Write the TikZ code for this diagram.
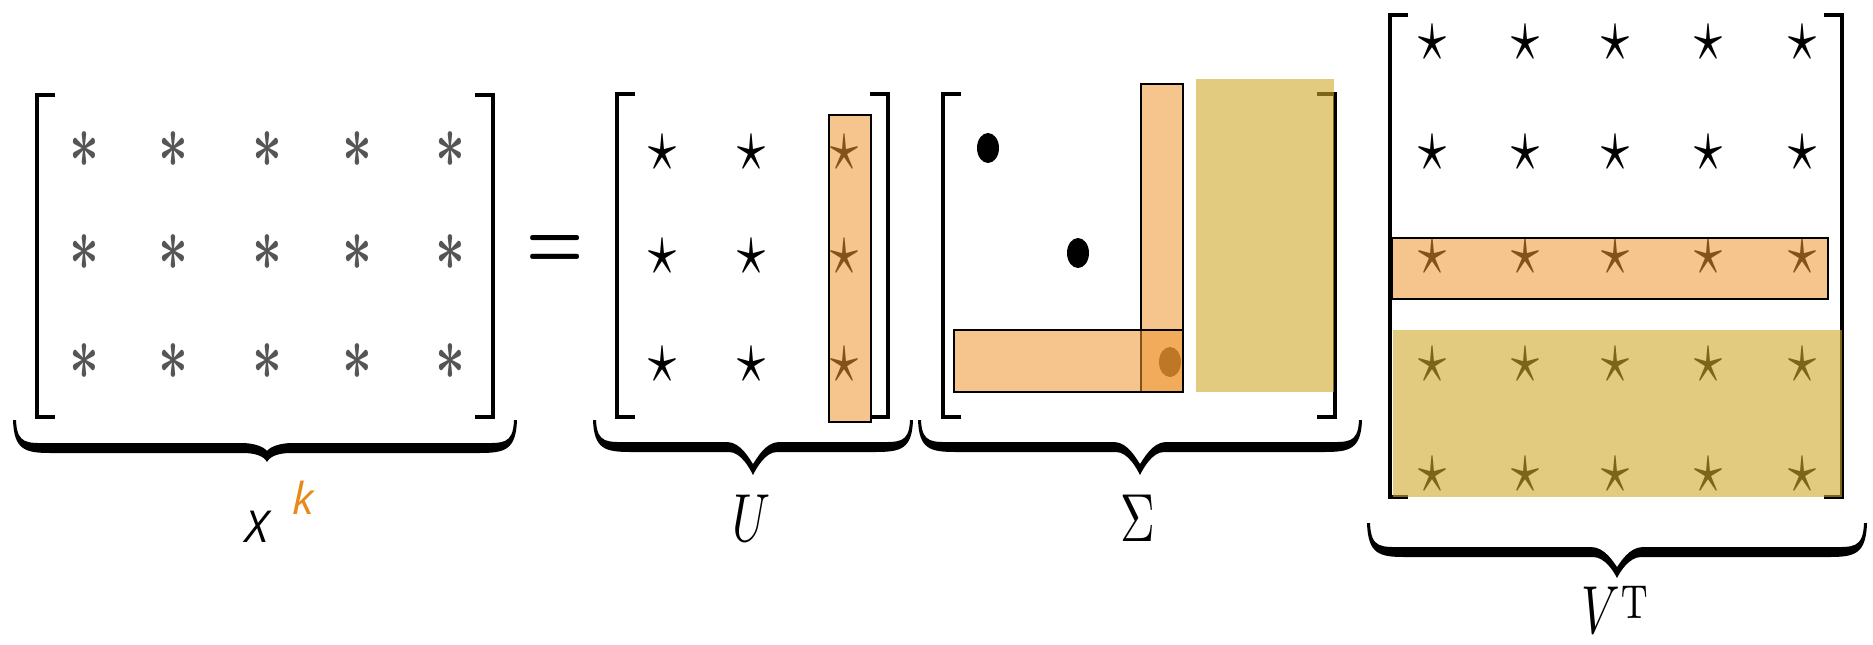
\documentclass[tikz,border=0pt]{standalone}
\usepackage[no-math]{fontspec}
\usepackage{bm}
\newfontfamily\labelsans{Open Sans}
\definecolor{hlorange}{RGB}{240,150,50}
\definecolor{hlgold}{RGB}{207,167,40}
\definecolor{korange}{RGB}{232,137,26}
\definecolor{astgray}{RGB}{85,85,85}
\tikzset{
  bracketline/.style={line width=2.2pt, line join=miter},
  starglyph/.style={inner sep=0pt, xscale=2.8, yscale=3.8},
  astglyph/.style={inner sep=0pt, xscale=2.6, yscale=3.8, text=astgray},
  mathlabel/.style={inner sep=0pt, xscale=2.4, yscale=3.4},
  eqglyph/.style={inner sep=0pt, xscale=3.2, yscale=4.2},
  hlbox/.style={draw=black, line width=0.8pt, fill=hlorange, fill opacity=0.55},
  goldbox/.style={fill=hlgold, fill opacity=0.6},
  bracefill/.style={fill=black},
  dotmark/.style={fill=black},
  sanslabel/.style={inner sep=0pt, font=\labelsans\itshape\fontsize{22}{26}\selectfont},
}
\newcommand\upSigmaGlyph{{\usefont{OT1}{cmr}{m}{n}\char"06}}
% #1 left x, #2 right x, #3 top y, #4 bottom y
\newcommand\mbracket[4]{%
  \draw[bracketline] ({#1+18},#3) -- (#1,#3) -- (#1,#4) -- ({#1+18},#4);
  \draw[bracketline] ({#2-18},#3) -- (#2,#3) -- (#2,#4) -- ({#2-18},#4);
}
% #1 left x, #2 right x, #3 centre x, #4 end top y, #5 bar y, #6 tip y
\newcommand\ubrace[6]{%
  \fill[bracefill] (#1,#4) .. controls ({#1+1},{#5+2}) and ({#1+12},{#5+5}) .. ({#1+38},{#5+5})
    -- ({#3-24},{#5+5}) .. controls ({#3-12},{#5+5}) and ({#3-3},{#6-6}) .. (#3,#6)
    .. controls ({#3+3},{#6-6}) and ({#3+12},{#5+5}) .. ({#3+24},{#5+5})
    -- ({#2-38},{#5+5}) .. controls ({#2-12},{#5+5}) and ({#2-1},{#5+2}) .. (#2,#4)
    -- ({#2-3},#4) .. controls ({#2-4},{#5-3}) and ({#2-14},{#5-5}) .. ({#2-38},{#5-5})
    -- ({#3+26},{#5-5}) .. controls ({#3+12},{#5-5}) and ({#3+3},{#6-15}) .. (#3,{#6-11})
    .. controls ({#3-3},{#6-15}) and ({#3-12},{#5-5}) .. ({#3-26},{#5-5})
    -- ({#1+38},{#5-5}) .. controls ({#1+14},{#5-5}) and ({#1+4},{#5-3}) .. ({#1+3},#4) -- cycle;
}
\begin{document}
\begin{tikzpicture}[x=0.5pt,y=-0.5pt]
\fill[white] (0,0) rectangle (1873,644);
\useasboundingbox (0,0) rectangle (1873,644);

% ---- X^k ----
\mbracket{37}{493}{95}{417}
\foreach \c [count=\i] in {84,173,267,357,450}
  \foreach \r [count=\j] in {150,253,362}
    \node[astglyph] (x\i\j) at (\c,\r) {$\bm{\ast}$};
\ubrace{13}{517}{267}{420}{448}{462}
\node[sanslabel] (xlab) at (257,527) {X};
\node[sanslabel, text=korange] (klab) at (303.5,498) {k};

% ---- = ----
\node[eqglyph] (eq) at (555,252) {$\bm{=}$};

% ---- U ----
\mbracket{617}{888}{94}{417}
\foreach \c [count=\i] in {662,751,844}
  \foreach \r [count=\j] in {153,257,365}
    \node[starglyph] (u\i\j) at (\c,\r) {$\star$};
\ubrace{593}{913}{753}{420}{447}{475}
\node[mathlabel] (ulab) at (751,518) {$U$};

% ---- Sigma ----
\mbracket{943}{1335}{94}{417}
\fill[dotmark] (988,148) ellipse [x radius=5.5pt, y radius=7.5pt];
\fill[dotmark] (1078,253) ellipse [x radius=5.5pt, y radius=7.5pt];
\fill[dotmark] (1170,362) ellipse [x radius=5.5pt, y radius=7.5pt];
\ubrace{918}{1362}{1140}{420}{447}{475}
\node[mathlabel] (slab) at (1138,518) {\upSigmaGlyph};

% ---- V^T ----
\mbracket{1390}{1842}{15}{497}
\foreach \c [count=\i] in {1432,1525,1615,1708,1802}
  \foreach \r [count=\j] in {43,153,257,365,475}
    \node[starglyph] (v\i\j) at (\c,\r) {$\star$};
\ubrace{1367}{1867}{1617}{523}{552}{578}
\node[mathlabel, anchor=base] (vlab) at (1615,633) {$V\raisebox{0.22em}{$\scriptstyle\mathrm{T}$}$};

% ---- highlights ----
\draw[hlbox] (829,115) rectangle (871,422);
\draw[hlbox] (1141,84) rectangle (1183,392);
\draw[hlbox] (954,330) rectangle (1183,392);
\fill[goldbox] (1196,79) rectangle (1334,392);
\draw[hlbox] (1392,238) rectangle (1828,299);
\fill[goldbox] (1393,330) rectangle (1842,497);
\end{tikzpicture}
\end{document}
